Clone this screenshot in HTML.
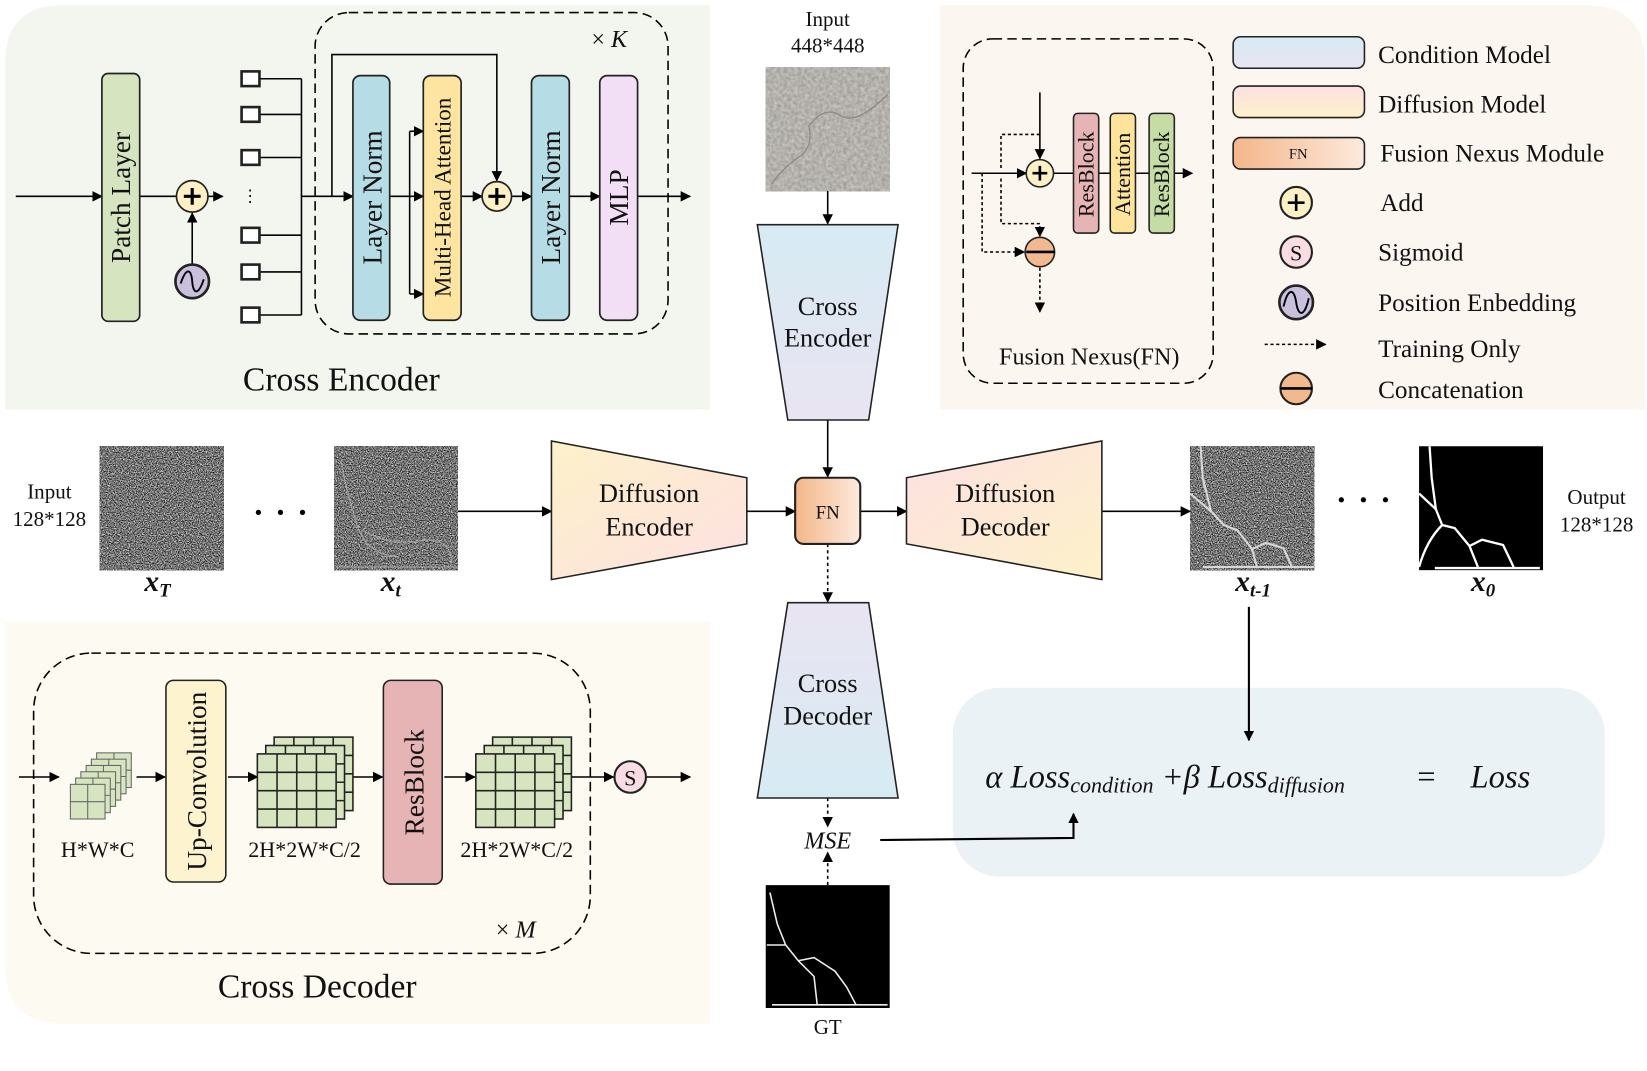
<!DOCTYPE html>
<html><head><meta charset="utf-8"><style>
html,body{margin:0;padding:0;background:#fff;width:1647px;height:1071px;overflow:hidden}
svg{display:block}
text{font-family:"Liberation Serif",serif;fill:#111}
</style></head><body>
<svg width="1647" height="1071" viewBox="0 0 1568 1020" preserveAspectRatio="none" xmlns="http://www.w3.org/2000/svg">
<defs>
<marker id="a" markerWidth="10" markerHeight="10" refX="9" refY="5" orient="auto" markerUnits="userSpaceOnUse"><path d="M0,0 L10,5 L0,10z" fill="#000"/></marker>
<filter id="nz2" x="0" y="0" width="100%" height="100%" color-interpolation-filters="sRGB"><feTurbulence type="fractalNoise" baseFrequency="0.9" numOctaves="2" seed="7"/><feColorMatrix type="matrix" values="1.7 0 0 0 -0.4  1.7 0 0 0 -0.4  1.7 0 0 0 -0.4  0 0 0 0 1"/></filter>
<filter id="nz" x="0" y="0" width="100%" height="100%" color-interpolation-filters="sRGB"><feTurbulence type="fractalNoise" baseFrequency="0.3" numOctaves="3" seed="3"/><feColorMatrix type="matrix" values="0.25 0 0 0 0.58  0.25 0 0 0 0.57  0.25 0 0 0 0.55  0 0 0 0 1"/></filter>
<linearGradient id="gc" x1="0" y1="0" x2="0" y2="1"><stop offset="0" stop-color="#d6ebf3"/><stop offset="1" stop-color="#e9e4f2"/></linearGradient>
<linearGradient id="gcr" x1="0" y1="1" x2="0" y2="0"><stop offset="0" stop-color="#d6ebf3"/><stop offset="1" stop-color="#e9e4f2"/></linearGradient>
<linearGradient id="gd" x1="0" y1="0" x2="0" y2="1"><stop offset="0" stop-color="#fde0e2"/><stop offset="1" stop-color="#fdf1c9"/></linearGradient>
<linearGradient id="gdh" x1="0" y1="0" x2="1" y2="1"><stop offset="0" stop-color="#fdf1c9"/><stop offset="1" stop-color="#fde0e2"/></linearGradient>
<linearGradient id="gdh2" x1="0" y1="0" x2="1" y2="1"><stop offset="0" stop-color="#fde0e2"/><stop offset="1" stop-color="#fdf1c9"/></linearGradient>
<linearGradient id="gf" x1="0" y1="0" x2="1" y2="0"><stop offset="0" stop-color="#f3b68a"/><stop offset="1" stop-color="#fdeadd"/></linearGradient>
<g id="sm" stroke="#666" stroke-width="1" fill="#d6e4c0"><rect x="0" y="0" width="33" height="33"/><path d="M16.5,0 V33 M0,16.5 H33" fill="none"/></g>
<g id="grid" stroke="#222" stroke-width="1.5" fill="#d6e4c0"><rect width="75" height="70"/><path d="M18.75,0V70M37.5,0V70M56.25,0V70M0,17.5H75M0,35H75M0,52.5H75" fill="none"/></g>
<g id="big"><use href="#grid" x="16" y="-16"/><use href="#grid" x="8" y="-8"/><use href="#grid"/></g>
</defs>

<path d="M5,60 Q5,5 60,5 L676,5 L676,390 L5,390z" fill="#f3f6ee"/>
<path d="M895,5 L1510,5 Q1566,5 1566,60 L1566,390 L895,390z" fill="#fcf6f1"/>
<path d="M5,592 L676,592 L676,975 L60,975 Q5,975 5,920z" fill="#fdfaf1"/>
<rect x="907" y="655" width="621" height="180" rx="45" fill="#ebf2f6"/>

<g stroke="#000" stroke-width="1.5" fill="none">
<line x1="15" y1="187" x2="97" y2="187" marker-end="url(#a)"/>
<line x1="133" y1="187" x2="168" y2="187"/>
<line x1="198" y1="187" x2="212" y2="187" marker-end="url(#a)"/>
<line x1="183" y1="252" x2="183" y2="203" marker-end="url(#a)"/>
<path d="M247,75 H287 M247,109 H287 M247,150 H287 M247,224 H287 M247,259 H287 M247,300 H287 M287,75 V300"/>
<line x1="287" y1="187" x2="336" y2="187" marker-end="url(#a)"/>
<path d="M316,187 V52 H473 V172" marker-end="url(#a)"/>
<line x1="371" y1="187" x2="403" y2="187" marker-end="url(#a)"/>
<path d="M390,280 V125"/>
<line x1="390" y1="125" x2="403" y2="125" marker-end="url(#a)"/>
<line x1="390" y1="280" x2="403" y2="280" marker-end="url(#a)"/>
<line x1="439" y1="187" x2="459" y2="187" marker-end="url(#a)"/>
<line x1="487" y1="187" x2="506" y2="187" marker-end="url(#a)"/>
<line x1="542" y1="187" x2="571" y2="187" marker-end="url(#a)"/>
<line x1="607" y1="187" x2="657" y2="187" marker-end="url(#a)"/>
<rect x="300" y="12" width="336" height="306" rx="32" stroke-dasharray="9,5"/>
</g>
<g stroke="#222" stroke-width="1.6">
<rect x="97" y="70" width="36" height="236" rx="6" fill="#d6e4c0"/>
<rect x="336" y="72" width="35" height="233" rx="7" fill="#b6dde6"/>
<rect x="403" y="72" width="36" height="233" rx="7" fill="#fde4a0"/>
<rect x="506" y="72" width="36" height="233" rx="7" fill="#b6dde6"/>
<rect x="571" y="72" width="36" height="233" rx="7" fill="#f2dff5"/>
<g fill="#fff" stroke-width="2.5"><rect x="230" y="68" width="17" height="14"/><rect x="230" y="102" width="17" height="14"/><rect x="230" y="143" width="17" height="14"/><rect x="230" y="217" width="17" height="14"/><rect x="230" y="252" width="17" height="14"/><rect x="230" y="293" width="17" height="14"/></g>
<circle cx="183" cy="187" r="15" fill="#fdf0c4"/>
<circle cx="183" cy="268" r="16" fill="#c9c0de" stroke-width="2.5"/>
<circle cx="473" cy="187" r="14" fill="#fdf0c4"/>
</g>
<path d="M175,187 H191 M183,179 V195 M465,187 H481 M473,179 V195" stroke="#000" stroke-width="3"/>
<path d="M172,270 C177,255 182,255 183,268 C184,281 189,281 194,266" stroke="#000" stroke-width="1.8" fill="none"/>
<text x="238" y="192" font-size="16" text-anchor="middle">⋮</text>
<g font-size="26" text-anchor="middle">
<text transform="translate(124,188) rotate(-90)">Patch Layer</text>
<text transform="translate(363,188) rotate(-90)">Layer Norm</text>
<text transform="translate(429,188) rotate(-90)" font-size="22">Multi-Head Attention</text>
<text transform="translate(533,188) rotate(-90)">Layer Norm</text>
<text transform="translate(598,188) rotate(-90)">MLP</text>
</g>
<text x="563" y="45" font-size="23">× <tspan font-style="italic">K</tspan></text>
<text x="325" y="372" font-size="32" text-anchor="middle">Cross Encoder</text>

<g font-size="20" text-anchor="middle"><text x="788" y="25">Input</text><text x="788" y="50">448*448</text></g>
<rect x="729" y="64" width="118" height="118" filter="url(#nz)"/>
<path d="M735,175 Q745,160 760,150 T770,120 Q785,100 800,110 T845,90" stroke="#8d8a85" stroke-width="1.2" fill="none"/>
<g stroke="#000" stroke-width="1.5" fill="none">
<line x1="788" y1="182" x2="788" y2="213" marker-end="url(#a)"/>
<line x1="788" y1="400" x2="788" y2="454" marker-end="url(#a)"/>
<line x1="435" y1="487" x2="525" y2="487" marker-end="url(#a)"/>
<line x1="711" y1="487" x2="757" y2="487" marker-end="url(#a)"/>
<line x1="819" y1="487" x2="863" y2="487" marker-end="url(#a)"/>
<line x1="1049" y1="487" x2="1133" y2="487" marker-end="url(#a)"/>
<line x1="788" y1="518" x2="788" y2="573" stroke-dasharray="3,3" marker-end="url(#a)"/>
<line x1="788" y1="760" x2="788" y2="787" stroke-dasharray="3,3" marker-end="url(#a)"/>
<line x1="788" y1="843" x2="788" y2="812" stroke-dasharray="3,3" marker-end="url(#a)"/>
<path d="M838,800 L1022,798 V775" stroke-width="2" marker-end="url(#a)"/>
<line x1="1189" y1="578" x2="1189" y2="705" stroke-width="2" marker-end="url(#a)"/>
</g>
<g stroke="#222" stroke-width="1.5">
<path d="M721,214 L855,214 L827,400 L750,400z" fill="url(#gc)"/>
<path d="M750,574 L827,574 L855,760 L721,760z" fill="url(#gcr)"/>
<path d="M525,420 L711,455 L711,518 L525,552z" fill="url(#gdh)"/>
<path d="M863,455 L1049,420 L1049,552 L863,518z" fill="url(#gdh2)"/>
<rect x="757" y="455" width="62" height="63" rx="8" fill="url(#gf)" stroke-width="2"/>
</g>
<g font-size="25" text-anchor="middle">
<text x="788" y="300">Cross</text><text x="788" y="330">Encoder</text>
<text x="788" y="659">Cross</text><text x="788" y="690">Decoder</text>
<text x="618" y="478">Diffusion</text><text x="618" y="510">Encoder</text>
<text x="957" y="478">Diffusion</text><text x="957" y="510">Decoder</text>
</g>
<text x="788" y="494" font-size="18" text-anchor="middle">FN</text>
<text x="788" y="808" font-size="23" font-style="italic" text-anchor="middle">MSE</text>

<rect x="95" y="425" width="118" height="118" filter="url(#nz2)"/>
<rect x="318" y="425" width="118" height="118" filter="url(#nz2)"/>
<path d="M325,440 Q330,470 340,500 T380,530 M345,505 Q370,520 400,515 T430,538 M320,540 H436" stroke="#bbb" stroke-width="1.3" fill="none" opacity="0.6"/>
<rect x="1133" y="425" width="118" height="118" filter="url(#nz2)"/>
<path d="M1143,425 L1145,455 L1153,487 L1165,500 L1178,505 L1192,523 L1197,541 M1133,470 L1153,487 M1192,523 L1205,517 L1222,522 L1230,540 M1145,540 H1251" stroke="#d8d8d8" stroke-width="2" fill="none"/>
<rect x="1351" y="425" width="118" height="118" fill="#000"/>
<path d="M1361,425 L1363,455 L1367,485 L1373,500 L1385,503 L1399,520 L1407,540 M1351,470 L1367,485 M1351,540 Q1358,515 1373,500 M1399,520 L1411,514 L1431,519 L1441,540 M1366,541 H1466" stroke="#fff" stroke-width="2.2" fill="none"/>
<rect x="729" y="843" width="118" height="117" fill="#000"/>
<path d="M733,850 L740,880 L748,900 L760,915 L775,930 L778,957 M760,915 L775,912 L795,925 L806,940 L815,957 M730,900 L748,900 M735,957 H845" stroke="#eee" stroke-width="1.5" fill="none"/>

<g fill="#000"><circle cx="246" cy="488" r="2.5"/><circle cx="267" cy="488" r="2.5"/><circle cx="288" cy="488" r="2.5"/><circle cx="1277" cy="476" r="2.5"/><circle cx="1298" cy="476" r="2.5"/><circle cx="1319" cy="476" r="2.5"/></g>
<g font-size="20" text-anchor="middle"><text x="47" y="475">Input</text><text x="47" y="501">128*128</text><text x="1520" y="480">Output</text><text x="1520" y="506">128*128</text>
<text x="788" y="985">GT</text></g>
<g font-size="28" font-weight="bold" font-style="italic" text-anchor="middle">
<text x="150" y="563">x<tspan font-size="18" dy="5">T</tspan></text>
<text x="372" y="563">x<tspan font-size="18" dy="5">t</tspan></text>
<text x="1193" y="563">x<tspan font-size="18" dy="5">t-1</tspan></text>
<text x="1412" y="563">x<tspan font-size="18" dy="5">0</tspan></text>
</g>

<text x="938" y="750" font-size="31" font-style="italic" font-family="Liberation Sans, sans-serif">α Loss<tspan font-size="21" dy="5">condition</tspan><tspan dy="-5"> +β Loss</tspan><tspan font-size="21" dy="5">diffusion</tspan></text>
<text x="1358" y="750" font-size="31" font-family="Liberation Sans, sans-serif" text-anchor="middle">=</text>
<text x="1400" y="750" font-size="31" font-style="italic" font-family="Liberation Sans, sans-serif">Loss</text>

<g stroke="#000" stroke-width="1.5" fill="none">
<rect x="917" y="37" width="238" height="328" rx="28" stroke-dasharray="9,5"/>
<path d="M925,165 H977" marker-end="url(#a)"/>
<line x1="990" y1="88" x2="990" y2="151" marker-end="url(#a)"/>
<path d="M1003,165 H1022 M1046,165 H1057 M1081,165 H1094"/>
<line x1="1118" y1="165" x2="1135" y2="165" marker-end="url(#a)"/>
<g stroke-dasharray="3,2.5">
<path d="M953,160 V128 H990"/>
<path d="M953,170 V213 H990 V225" marker-end="url(#a)"/>
<path d="M935,165 V240 H975" marker-end="url(#a)"/>
<line x1="990" y1="255" x2="990" y2="297" marker-end="url(#a)"/>
<line x1="1204" y1="328" x2="1262" y2="328" marker-end="url(#a)"/>
</g>
</g>
<g stroke="#222" stroke-width="1.5">
<rect x="1022" y="108" width="24" height="114" rx="4" fill="#e6b4b5"/>
<rect x="1057" y="108" width="24" height="114" rx="4" fill="#fde49a"/>
<rect x="1094" y="108" width="24" height="114" rx="4" fill="#c5dca5"/>
<circle cx="990" cy="165" r="13" fill="#fdf0c4"/>
<circle cx="990" cy="240" r="14" fill="#f3b98e"/>
<rect x="1174" y="35" width="125" height="30" rx="7" fill="url(#gc)"/>
<rect x="1174" y="82" width="125" height="30" rx="7" fill="url(#gd)"/>
<rect x="1174" y="131" width="125" height="30" rx="7" fill="url(#gf)"/>
<circle cx="1234" cy="193" r="15" fill="#fdf0c4" stroke-width="2"/>
<circle cx="1234" cy="240" r="15" fill="#f9dde3" stroke-width="2"/>
<circle cx="1234" cy="288" r="16" fill="#c9c0de" stroke-width="2.5"/>
<circle cx="1234" cy="370" r="15" fill="#f3b98e" stroke-width="2"/>
</g>
<path d="M983,165 H997 M990,158 V172 M977,240 H1004 M1226,193 H1242 M1234,185 V201 M1219,370 H1249" stroke="#000" stroke-width="2.5"/>
<path d="M1222,292 C1226,274 1232,274 1234,288 C1236,302 1242,302 1246,284" stroke="#000" stroke-width="1.8" fill="none"/>
<g font-size="21" text-anchor="middle">
<text transform="translate(1041,166) rotate(-90)">ResBlock</text>
<text transform="translate(1076,166) rotate(-90)">Attention</text>
<text transform="translate(1113,166) rotate(-90)">ResBlock</text>
</g>
<text x="1234" y="248" font-size="21" text-anchor="middle" font-family="Liberation Sans, sans-serif">S</text>
<text x="1236" y="151" font-size="14" text-anchor="middle">FN</text>
<text x="1037" y="347" font-size="23" text-anchor="middle">Fusion Nexus(FN)</text>
<g font-size="24">
<text x="1312" y="60">Condition Model</text>
<text x="1312" y="107">Diffusion  Model</text>
<text x="1314" y="154">Fusion Nexus Module</text>
<text x="1314" y="201">Add</text>
<text x="1312" y="248">Sigmoid</text>
<text x="1312" y="296">Position Enbedding</text>
<text x="1312" y="340">Training Only</text>
<text x="1312" y="379">Concatenation</text>
</g>

<g stroke="#000" stroke-width="1.5" fill="none">
<rect x="32" y="622" width="530" height="286" rx="55" stroke-dasharray="9,5"/>
<line x1="18" y1="740" x2="56" y2="740" marker-end="url(#a)"/>
<line x1="130" y1="740" x2="157" y2="740" marker-end="url(#a)"/>
<line x1="217" y1="740" x2="245" y2="740" marker-end="url(#a)"/>
<line x1="332" y1="740" x2="364" y2="740" marker-end="url(#a)"/>
<line x1="423" y1="740" x2="452" y2="740" marker-end="url(#a)"/>
<line x1="537" y1="740" x2="584" y2="740" marker-end="url(#a)"/>
<line x1="615" y1="740" x2="657" y2="740" marker-end="url(#a)"/>
</g>
<use href="#sm" x="92" y="717"/><use href="#sm" x="87" y="723"/><use href="#sm" x="82" y="729"/><use href="#sm" x="77" y="735"/><use href="#sm" x="72" y="741"/><use href="#sm" x="67" y="747"/>
<use href="#big" x="245" y="718"/>
<use href="#big" x="453" y="718"/>
<g stroke="#222" stroke-width="1.5">
<rect x="158" y="648" width="57" height="192" rx="7" fill="#fdf3cf"/>
<rect x="365" y="648" width="56" height="194" rx="7" fill="#e6b4b5"/>
<circle cx="600" cy="740" r="15" fill="#f9dde3" stroke-width="2"/>
</g>
<text x="600" y="748" font-size="21" text-anchor="middle" font-family="Liberation Sans, sans-serif">S</text>
<g font-size="26" text-anchor="middle">
<text transform="translate(196,744) rotate(-90)">Up-Convolution</text>
<text transform="translate(403,745) rotate(-90)">ResBlock</text>
</g>
<g font-size="21" text-anchor="middle"><text x="93" y="816">H*W*C</text><text x="290" y="816">2H*2W*C/2</text><text x="492" y="816">2H*2W*C/2</text></g>
<text x="472" y="893" font-size="23">× <tspan font-style="italic">M</tspan></text>
<text x="302" y="950" font-size="32" text-anchor="middle">Cross Decoder</text>
</svg>
</body></html>
